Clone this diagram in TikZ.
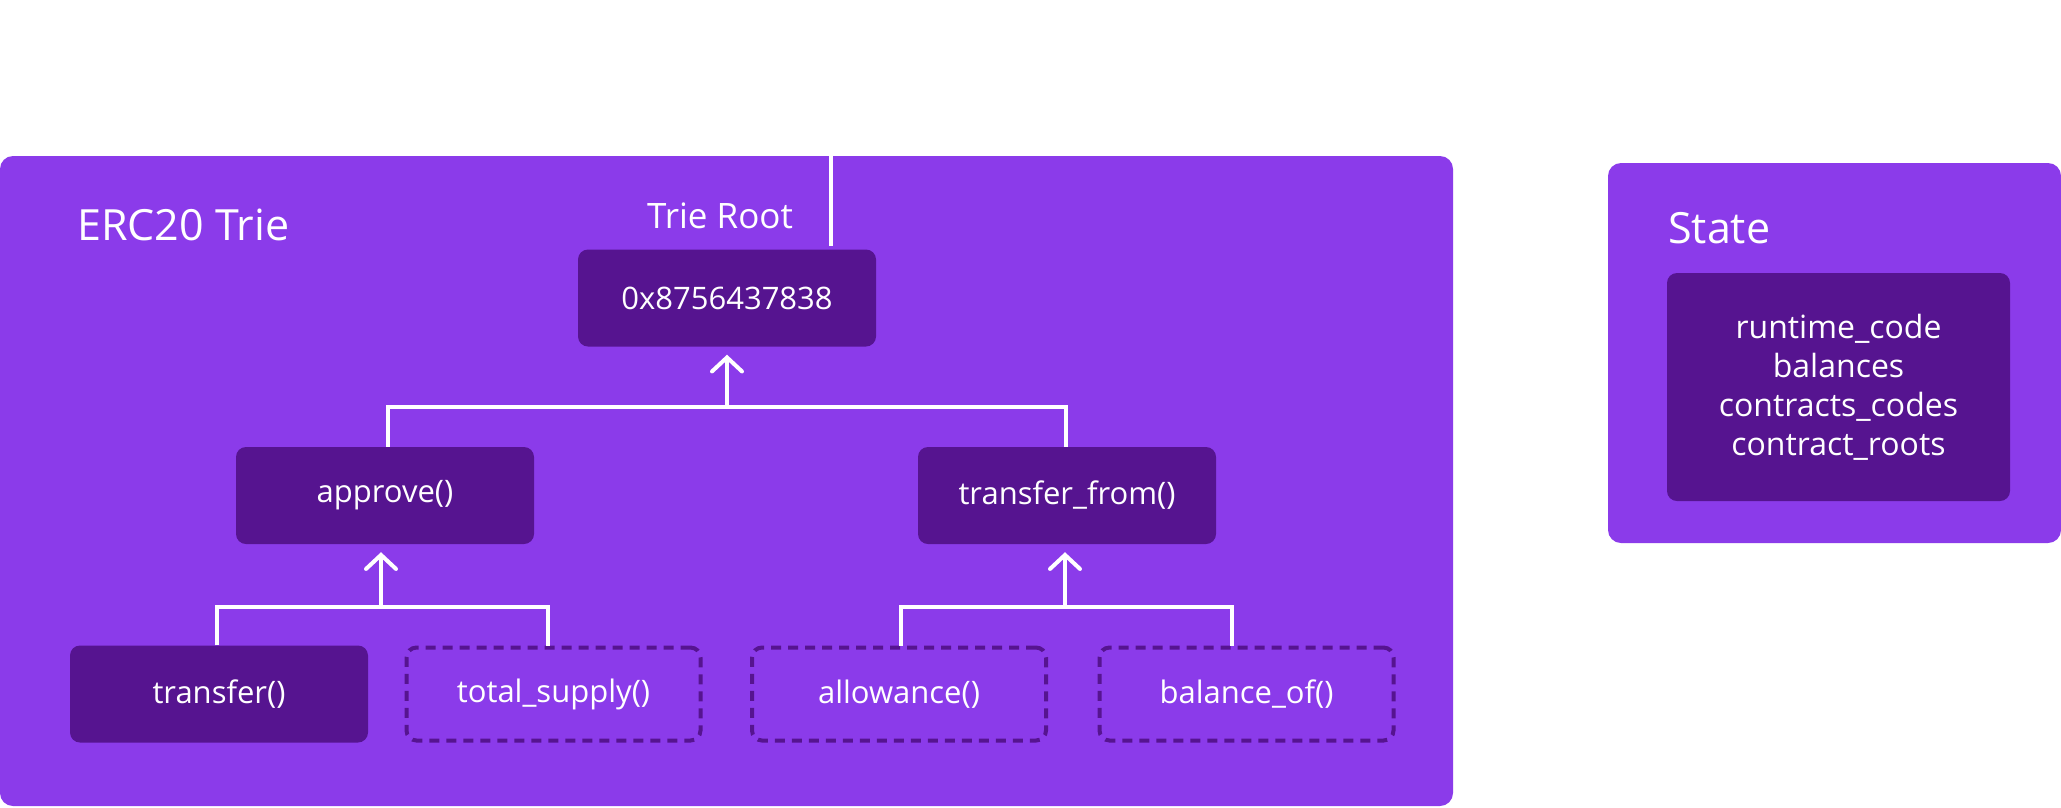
\documentclass[tikz,border=0pt]{standalone}
\usepackage{fontspec}
\setmainfont{Open Sans}
\usepackage{tikz}
\usetikzlibrary{arrows.meta}
\usetikzlibrary{positioning}
\usetikzlibrary{calc}

\definecolor{triepurple}{RGB}{139,59,234}
\definecolor{darkpurple}{RGB}{86,20,144}

\tikzset{
	panel/.style={fill=triepurple, rounded corners=13pt, inner sep=0pt},
	fnbox/.style={fill=darkpurple, rounded corners=10pt, text=white,
		minimum width=298pt, minimum height=97pt, font=\fontsize{31}{37}\selectfont},
	fnopt/.style={draw=darkpurple, line width=4pt, dash pattern=on 10pt off 7pt,
		rounded corners=10pt, text=white,
		minimum width=294pt, minimum height=93pt, font=\fontsize{31}{37}\selectfont},
	tree/.style={draw=white, line width=4pt},
	heading/.style={text=white, anchor=base west, inner sep=0pt, font=\fontsize{43}{50}\selectfont},
}

\begin{document}
\begin{tikzpicture}[x=1pt,y=-1pt,>={Straight Barb[length=14pt,width=30pt,line cap=round]}]

	\useasboundingbox (0,0) rectangle (2061,807);

	% Panels
	% ------
	\node[panel, minimum width=1453pt, minimum height=650pt] (erc) at (726.5,481) {};
	\node[panel, minimum width=453pt, minimum height=380pt] (state) at (1834.5,353) {};

	\node[heading] (ercTitle) at (77,240) {ERC20 Trie};
	\node[heading] (stateTitle) at (1668,243) {State};

	% State content
	\node[fnbox, minimum width=343pt, minimum height=228pt, align=center,
		  font=\fontsize{32}{39}\selectfont]
		  (stateBody) at (1838.5,387) {runtime\_code\\balances\\contracts\_codes\\contract\_roots};

	% Trie nodes
	% ----------
	\node[fnbox] (root) at (727,298) {0x8756437838};
	\node[heading, font=\fontsize{35}{42}\selectfont] (rootLabel) at (647,228) {Trie Root};

	\node[fnbox] (approve) at (385,495.5) {approve()};
	\node[fnbox] (transferFrom) at (1067,495.5) {transfer\_from()};

	\node[fnbox] (transfer) at (219,694) {transfer()};
	\node[fnopt] (totalSupply) at (553.5,694) {total\_supply()};
	\node[fnopt] (allowance) at (899,694) {allowance()};
	\node[fnopt] (balanceOf) at (1246.5,694) {balance\_of()};

	% Connectors
	% ----------
	\coordinate (rootLine) at (831,246);
	\draw[tree] (rootLine) -- (rootLine |- erc.north);

	\coordinate (topJoin) at (727,407);
	\draw[tree] ([xshift=3pt]approve.north) |- (topJoin) -| ([xshift=-1pt]transferFrom.north);
	\draw[tree,->,shorten >=8pt] (topJoin) -- (topJoin |- root.south);

	\coordinate (leftJoin) at (381,607);
	\draw[tree] ([xshift=-2pt]transfer.north) |- (leftJoin) -| ([xshift=-5.5pt]totalSupply.north);
	\draw[tree,->,shorten >=8pt] (leftJoin) -- (leftJoin |- approve.south);

	\coordinate (rightJoin) at (1065,607);
	\draw[tree] ([xshift=2pt]allowance.north) |- (rightJoin) -| ([xshift=-14.5pt]balanceOf.north);
	\draw[tree,->,shorten >=8pt] (rightJoin) -- (rightJoin |- transferFrom.south);

\end{tikzpicture}
\end{document}
